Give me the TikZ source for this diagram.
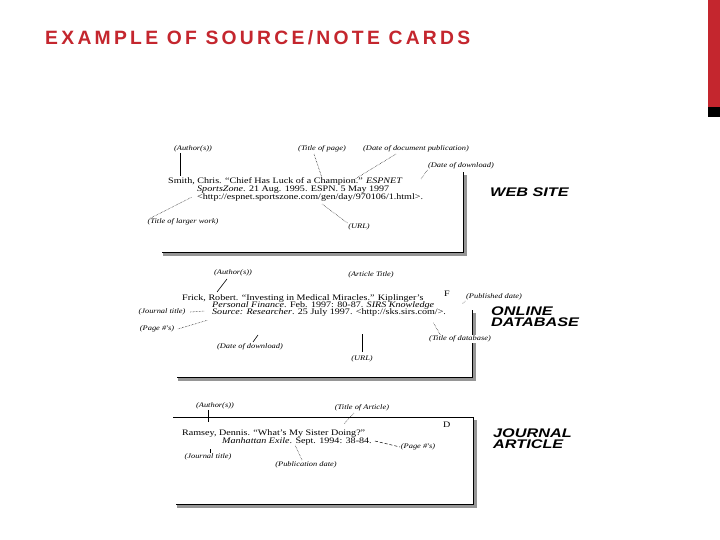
\documentclass[tikz,border=0pt]{standalone}
\usepackage{fontspec}
\setmainfont{Liberation Serif}
\newfontfamily\titlefont[LetterSpace=17]{Liberation Sans}
\newfontfamily\cardrm[FakeStretch=1.2]{Liberation Serif}
\newfontfamily\tagfont[FakeStretch=1.3]{Liberation Sans}
\definecolor{titlered}{RGB}{196,38,46}
\definecolor{shadowgray}{RGB}{150,150,150}
\tikzset{
  lbl/.style={inner sep=0.6pt, fill=white, font=\cardrm\itshape\fontsize{7}{7}\selectfont},
  ctext/.style={anchor=base west, inner sep=0pt, font=\cardrm\fontsize{8.4}{8}\selectfont},
  tagtext/.style={anchor=west, inner sep=0pt, align=left, font=\tagfont\bfseries\itshape\fontsize{12.5}{11}\selectfont},
  lead/.style={line width=0.5pt, densely dotted},
  sld/.style={line width=0.6pt},
  border/.style={line width=0.9pt},
  shadow/.style={fill=shadowgray},
}
\begin{document}
\begin{tikzpicture}[x=1pt,y=-1pt]
\useasboundingbox (0,0) rectangle (720,540);
\fill[white] (0,0) rectangle (720,540);
% side bar
\fill[titlered] (708,0) rectangle (720,107);
\fill[black] (708,107) rectangle (720,117);
% title
\node[anchor=west, inner sep=0pt, text=titlered, font=\titlefont\bfseries\fontsize{19.3}{20}\selectfont] (title) at (45,38) {EXAMPLE OF SOURCE/NOTE CARDS};

% ================= Card 1: web site =================
\fill[shadow] (163,253) rectangle (467,256);
\fill[shadow] (464,175) rectangle (467,256);
\draw[border] (162,252) -- (463,252) -- (463,172);

\node[ctext] (w1) at (168,184) {Smith, Chris. “Chief Has Luck of a Champion.” \textit{ESPNET}};
\node[ctext] (w2) at (197,192) {\textit{SportsZone}. 21 Aug. 1995. ESPN. 5 May 1997};
\node[ctext] (w3) at (197,200) {<http://espnet.sportszone.com/gen/day/970106/1.html>.};

\node[lbl] (wa) at (193,149) {(Author(s))};
\node[lbl] (wt) at (322,149) {(Title of page)};
\node[lbl] (wd) at (416,149) {(Date of document publication)};
\node[lbl] (wdl) at (461,166) {(Date of download)};
\node[lbl] (wl) at (183,222) {(Title of larger work)};
\node[lbl] (wu) at (359,227) {(URL)};
\node[tagtext] (wtag) at (490,192) {WEB SITE};

\coordinate (waE) at (180,176);
\coordinate (wtE) at (322,178);
\coordinate (wdE) at (355,179);
\coordinate (wdlE) at (421,179);
\coordinate (wlE) at (192,197);
\coordinate (wuE) at (322,204);
\draw[sld] (wa.south -| waE) -- (waE);
\draw[lead] (wt.south) ++(-8,1) coordinate (wtS) -- (wtE);
\draw[lead] (wd.south) ++(-20,1) coordinate (wdS) -- (wdE);
\draw[lead] (wdl.south west) -- (wdlE);
\draw[lead] (wl.north west) ++(4,0) coordinate (wlS) -- (wlE);
\draw[lead] (wu.north west) -- (wuE);

% ================= Card 2: online database =================
\fill[shadow] (178,378) rectangle (476,381);
\fill[shadow] (473,313) rectangle (476,381);
\draw[border] (177,377) -- (472,377) -- (472,310);

\node[ctext] (o1) at (182,300) {Frick, Robert. “Investing in Medical Miracles.” Kiplinger’s};
\node[ctext] (o2) at (212,307) {\textit{Personal Finance}. Feb. 1997: 80-87. \textit{SIRS Knowledge}};
\node[ctext] (o3) at (212,314) {\textit{Source: Researcher}. 25 July 1997. <http://sks.sirs.com/>.};
\node[ctext] (oF) at (444,296) {F};

\node[lbl] (oa) at (233,273) {(Author(s))};
\node[lbl] (ot) at (371,275) {(Article Title)};
\node[lbl] (op) at (494,297) {(Published date)};
\node[lbl] (oj) at (162,312) {(Journal title)};
\node[lbl] (opg) at (157,329) {(Page \#'s)};
\node[lbl] (odb) at (460,339) {(Title of database)};
\node[lbl] (odl) at (250,347) {(Date of download)};
\node[lbl] (ou) at (362,359) {(URL)};
\node[tagtext] (otag) at (491,317) {ONLINE\\DATABASE};

\coordinate (oaE) at (217,292);
\coordinate (opE) at (462,304);
\coordinate (ojE) at (205,311);
\coordinate (opgE) at (208,320);
\coordinate (odbE) at (433,322);
\coordinate (odlE) at (258,335);
\coordinate (ouE) at (362,334);
\draw[sld] (oa.south) ++(-6,2) coordinate (oaS) -- (oaE);
\draw[lead] (op.south west) -- (opE);
\draw[lead] (oj.east) ++(4,0) coordinate (ojS) -- (ojE);
\draw[lead] (opg.east) ++(3,0) coordinate (opgS) -- (opgE);
\draw[lead] (odb.north west) ++(12,0) coordinate (odbS) -- (odbE);
\draw[sld] (odl.north) ++(3,-1) coordinate (odlS) -- (odlE);
\draw[sld] (ou.north) ++(0,-3) coordinate (ouS) -- (ouE);

% ================= Card 3: journal article =================
\fill[shadow] (177,505) rectangle (477,508);
\fill[shadow] (474,420) rectangle (477,508);
\draw[border] (173,417) -- (473,417) -- (473,504) -- (176,504);

\node[ctext] (j1) at (182,435) {Ramsey, Dennis. “What’s My Sister Doing?”};
\node[ctext] (j2) at (222,443) {\textit{Manhattan Exile}. Sept. 1994: 38-84.};
\node[ctext] (jD) at (443,427) {D};

\node[lbl] (ja) at (215,406) {(Author(s))};
\node[lbl] (jt) at (362,408) {(Title of Article)};
\node[lbl] (jpg) at (418,447) {(Page \#'s)};
\node[lbl] (jj) at (208,457) {(Journal title)};
\node[lbl] (jpd) at (306,465) {(Publication date)};
\node[tagtext] (jtag) at (493,439) {JOURNAL\\ARTICLE};

\coordinate (jaE) at (208,422);
\coordinate (jtE) at (344,424);
\coordinate (jjE) at (210,449);
\coordinate (jpdE) at (295,445);
\draw[sld] (jaE |- ja.south) -- (jaE);
\draw[lead] (jt.south) ++(-8,1) coordinate (jtS) -- (jtE);
\draw[densely dashed, line width=0.5pt] (j2.base east) ++(3,-2) coordinate (jpgS) -- (jpg.west);
\draw[sld] (jj.north -| jjE) -- (jjE);
\draw[lead] (jpd.north) ++(-4,-1) coordinate (jpdS) -- (jpdE);
\end{tikzpicture}
\end{document}
